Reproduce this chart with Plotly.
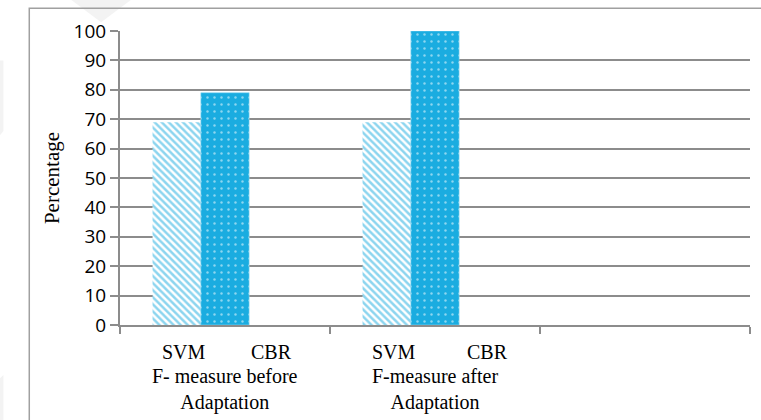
import plotly.graph_objects as go

groups = ["F- measure before<br>Adaptation", "F-measure after<br>Adaptation", ""]
svm_values = [69, 69, None]
cbr_values = [79, 100, None]
extra_values = [None, None, None]
y_ticks = [0, 10, 20, 30, 40, 50, 60, 70, 80, 90, 100]

BLUE = "#1aace0"
GRID = "#8c8c8c"

fig = go.Figure()
fig.add_trace(go.Bar(
    x=groups, y=svm_values, name="SVM",
    marker=dict(color="white", line=dict(width=0),
                pattern=dict(shape="\\", fgcolor=BLUE, bgcolor="white",
                             fillmode="overlay", size=5, solidity=0.5)),
))
fig.add_trace(go.Bar(
    x=groups, y=cbr_values, name="CBR",
    marker=dict(color=BLUE, line=dict(width=0.6, color="#8fd6f2"),
                pattern=dict(shape=".", fgcolor="white", bgcolor=BLUE,
                             fillmode="overlay", size=7, solidity=0.1)),
))
fig.add_trace(go.Bar(x=groups, y=extra_values, name="", marker=dict(color=BLUE)))

fig.update_layout(
    width=761, height=420,
    margin=dict(l=120, r=11, t=31, b=95),
    paper_bgcolor="white", plot_bgcolor="white",
    barmode="group", bargap=0.31, bargroupgap=0,
    showlegend=False,
    font=dict(family="Liberation Serif", color="black"),
)
fig.update_xaxes(
    type="category", categoryorder="array", categoryarray=groups,
    range=[-0.5, 2.5], tickson="boundaries", ticks="outside", ticklen=7,
    tickcolor=GRID, tickwidth=2, showticklabels=False,
    showline=True, linecolor=GRID, linewidth=2, showgrid=False,
    fixedrange=True,
)
fig.update_yaxes(
    range=[0, 100], tickvals=y_ticks, ticks="outside", ticklen=8,
    tickcolor=GRID, tickwidth=2,
    showgrid=True, gridcolor=GRID, gridwidth=2,
    showline=True, linecolor=GRID, linewidth=2, zeroline=False,
    tickfont=dict(family="Open Sans", size=19, color="black"),
    title=dict(text="Percentage", font=dict(family="Liberation Serif", size=21),
               standoff=8),
)

# series labels under the bars and group labels
label_offsets = {"SVM": -0.195, "CBR": 0.22}
for i, g in enumerate(groups[:2]):
    for name, off in label_offsets.items():
        fig.add_annotation(x=i + off + (0.03 if (i == 1 and name == "CBR") else 0),
                           y=0, xref="x", yref="y", text=name, showarrow=False,
                           yshift=-27, font=dict(family="Liberation Serif", size=20))
    fig.add_annotation(x=i, y=0, xref="x", yref="y", text=g, showarrow=False,
                       yanchor="top", yshift=-38,
                       font=dict(family="Liberation Serif", size=20))

# faint background watermark shapes
fig.add_shape(type="path", xref="paper", yref="paper", layer="below",
              path="M -0.08 1.11 L 0.02 1.11 L -0.03 1.03 Z",
              fillcolor="#f3f3f3", line=dict(width=0))
fig.add_shape(type="path", xref="paper", yref="paper", layer="below",
              path="M -0.2 0.9 L -0.185 0.9 L -0.185 0.66 L -0.2 0.62 Z",
              fillcolor="#f3f3f3", line=dict(width=0))
fig.add_shape(type="path", xref="paper", yref="paper", layer="below",
              path="M -0.2 -0.2 L -0.185 -0.17 L -0.185 -0.33 L -0.2 -0.33 Z",
              fillcolor="#f3f3f3", line=dict(width=0))

# outer chart border
fig.add_shape(type="rect", xref="paper", yref="paper",
              x0=-0.144, x1=1.03, y0=-0.35, y1=1.077,
              line=dict(color="#a0a0a0", width=1.5), layer="below")

fig.write_html("out.html")
